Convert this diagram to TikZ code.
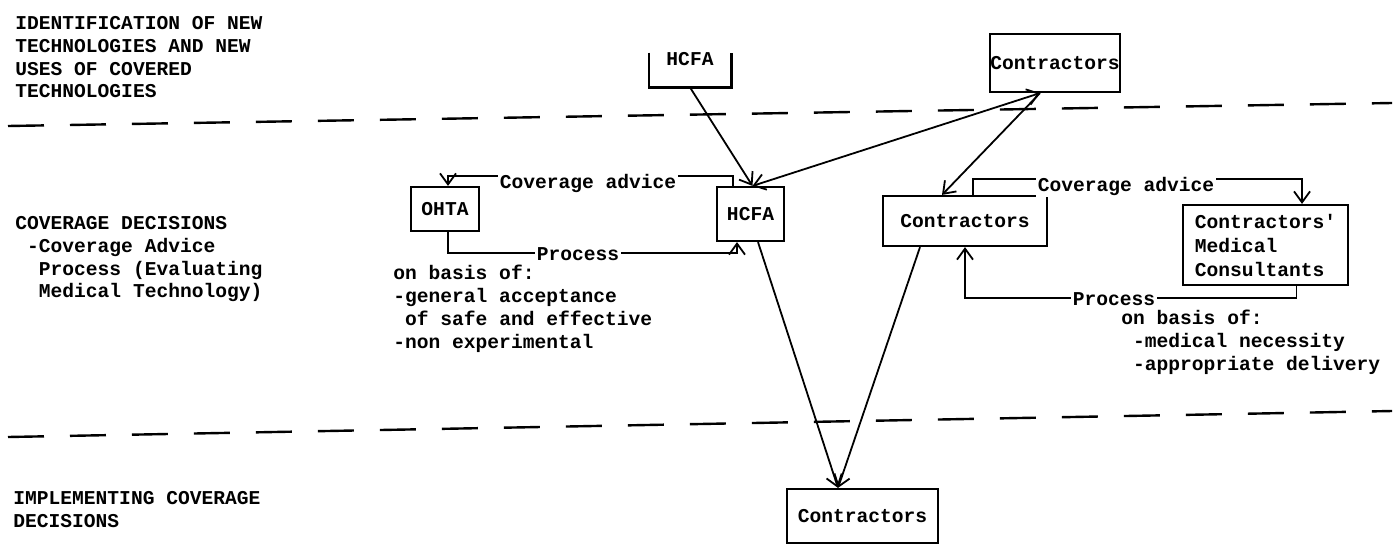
\documentclass[tikz,border=0pt]{standalone}
\usepackage{fontspec}
\setmonofont{Liberation Mono}
\usetikzlibrary{arrows.meta,calc}
\begin{document}
\begin{tikzpicture}[x=0.5pt,y=-0.5pt,
  every node/.style={font=\fontsize{9.8}{11.4}\ttfamily\bfseries},
  box/.style={draw, line width=1.1pt, inner sep=0pt},
  conn/.style={line width=0.9pt},
  tip/.tip={Straight Barb[length=5.5pt,width=8pt,line width=0.9pt]},
  arr/.style={conn,-tip},
  darr/.style={conn,tip-tip},
  lbl/.style={align=left, anchor=north west, inner sep=0pt},
  onl/.style={fill=white, inner sep=1pt},
  divider/.style={line width=1.2pt, dash pattern=on 18pt off 13pt}]
\useasboundingbox (0,0) rectangle (1400,546);

% dividers
\draw[divider] (8,126) -- (1392,103);
\draw[divider] (8,437) -- (1392,411);

% section labels
\node[lbl] (sec1) at (15,16) {IDENTIFICATION OF NEW\\TECHNOLOGIES AND NEW\\USES OF COVERED\\TECHNOLOGIES};
\node[lbl] (sec2) at (15,216) {COVERAGE DECISIONS\\\phantom{-}-Coverage Advice\\\phantom{--}Process (Evaluating\\\phantom{--}Medical Technology)};
\node[lbl] (sec3) at (13,491) {IMPLEMENTING COVERAGE\\DECISIONS};

% boxes
\node[minimum width=41pt, minimum height=17pt, inner sep=0pt] (tophcfa) at (690,70) {};
\draw[box] (tophcfa.north west) -- (tophcfa.south west) -- (tophcfa.south east) -- (tophcfa.north east);
\node[inner sep=0pt] (tophcfalabel) at (690,59) {HCFA};
\node[box, minimum width=61pt, minimum height=29pt] (ctop) at (1055,63) {Contractors};
\node[box, minimum width=34pt, minimum height=22pt] (ohta) at (445,209) {OHTA};
\node[box, minimum width=33.5pt, minimum height=27pt] (hcfa) at (750.5,214) {HCFA};
\node[box, minimum width=82pt, minimum height=25pt] (cmid) at (965,221) {Contractors};
\node[box, minimum width=82.5pt, minimum height=40pt, align=left, font=\fontsize{9.8}{12}\ttfamily\bfseries] (cons) at (1265.5,245) {Contractors'\\Medical\\Consultants};
\node[box, minimum width=75.5pt, minimum height=27pt] (cbot) at (862.5,516) {Contractors};

% connectors between levels
\draw[arr] (tophcfa.south) -- ($(hcfa.north)+(2,0)$);
\draw[darr] ($(ctop.south)+(-15,0)$) -- ($(hcfa.north)+(2,0)$);
\draw[arr] ($(ctop.south)+(-15,0)$) -- ($(cmid.north)+(-23,0)$);
\draw[arr] ($(hcfa.south)+(7.5,0)$) -- ($(cbot.north)+(-24.5,0)$);
\draw[arr] ($(cmid.south)+(-45,0)$) -- ($(cbot.north)+(-24.5,0)$);

% advice / process loops
\draw[arr] ($(hcfa.north)+(-17.5,0)$) -- ++(0,-10) -| ($(ohta.north)+(3,0)$);
\draw[arr] ($(ohta.south)+(3,0)$) -- ++(0,21) -| ($(hcfa.south)+(-13.5,0)$);
\draw[arr] ($(cmid.north)+(8,0)$) -- ++(0,-16) -| ($(cons.north)+(36.5,0)$);
\draw[arr] ($(cons.south)+(31,0)$) -- ++(0,12) -| (cmid.south);

\node[onl] (adv1) at (588,183) {Coverage advice};
\node[onl] (proc1) at (578,254) {Process};
\node[onl] (adv2) at (1126,186) {Coverage advice};
\node[onl] (proc2) at (1114,299) {Process};

% criteria
\node[lbl] (basis1) at (393,265) {on basis of:\\-general acceptance\\\phantom{-}of safe and effective\\-non experimental};
\node[lbl] (basis2) at (1121,310) {on basis of:\\\phantom{-}-medical necessity\\\phantom{-}-appropriate delivery};
\end{tikzpicture}
\end{document}
